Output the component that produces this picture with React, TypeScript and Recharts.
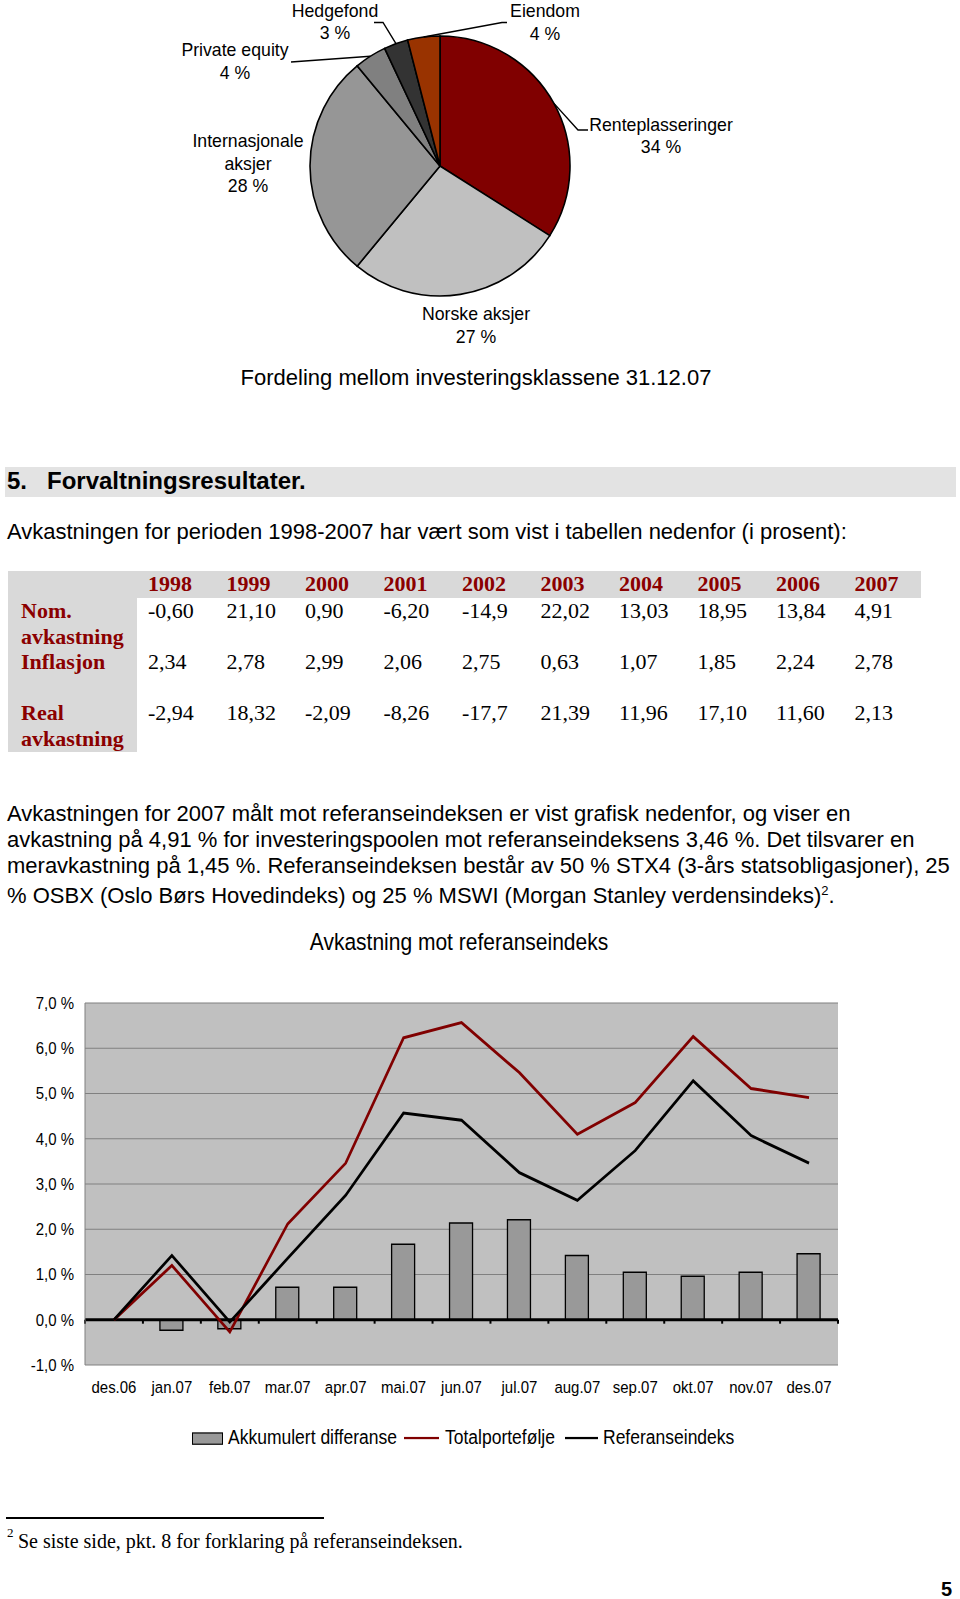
import React from "react"
import {
  PieChart,
  Pie,
  Cell,
  ComposedChart,
  Bar,
  Line,
  XAxis,
  YAxis,
  CartesianGrid,
  ReferenceLine
} from 'recharts'

// fordeling 31.12.07 (clockwise from 12 o'clock)
const pieNames = ['Renteplasseringer', 'Norske aksjer', 'Internasjonale aksjer', 'Private equity', 'Hedgefond', 'Eiendom']
const pieShares = [34, 27, 28, 4, 3, 4]
const pieColors = ['#800000', '#c0c0c0', '#969696', '#808080', '#333333', '#993300']

// avkastningstabell
const years = ['1998', '1999', '2000', '2001', '2002', '2003', '2004', '2005', '2006', '2007']
const nomReturn = ['-0,60', '21,10', '0,90', '-6,20', '-14,9', '22,02', '13,03', '18,95', '13,84', '4,91']
const inflation = ['2,34', '2,78', '2,99', '2,06', '2,75', '0,63', '1,07', '1,85', '2,24', '2,78']
const realReturn = ['-2,94', '18,32', '-2,09', '-8,26', '-17,7', '21,39', '11,96', '17,10', '11,60', '2,13']

// avkastning mot referanseindeks 2007
const months = ['des.06', 'jan.07', 'feb.07', 'mar.07', 'apr.07', 'mai.07', 'jun.07', 'jul.07', 'aug.07', 'sep.07', 'okt.07', 'nov.07', 'des.07']
const akkumulert = [0, -0.23, -0.2, 0.72, 0.72, 1.67, 2.14, 2.21, 1.42, 1.05, 0.96, 1.05, 1.46]
const totalportefolje = [0, 1.2, -0.27, 2.12, 3.46, 6.23, 6.57, 5.46, 4.1, 4.8, 6.26, 5.11, 4.91]
const referanseindeks = [0, 1.42, -0.05, 1.36, 2.75, 4.57, 4.41, 3.25, 2.64, 3.74, 5.28, 4.07, 3.46]
const yTicks = [-1, 0, 1, 2, 3, 4, 5, 6, 7]

const pieData = pieNames.map((name, i) => ({ name, value: pieShares[i] }))
// note: no "ref" key here, recharts spreads entries into props
const chartData = months.map((m, i) => ({
  month: m,
  diff: akkumulert[i],
  total: totalportefolje[i],
  bench: referanseindeks[i]
}))

const SANS = '"Liberation Sans", Arial, sans-serif'
const SERIF = '"Liberation Serif", "Times New Roman", serif'
const RED = '#8b0000'
const STRETCH = 1.12 // the embedded line chart is a bit taller than wide

// where each pie label sits
const pieLabelPos: any[] = [
  { x: 661, y: 124.5, path: [[578, 130], [588, 130]] },
  { x: 476, y: 314 },
  { x: 248, y: 141, wrap: true },
  { x: 235, y: 50, path: [[291, 62]] },
  { x: 335, y: 10.5, path: [[383, 22.5], [374, 22.5]] },
  { x: 545, y: 11, path: [[502, 22.5], [507, 22.5]] },
]

const RAD = Math.PI / 180

function pieLabel(props: any) {
  const { cx, cy, midAngle, outerRadius, index } = props
  const pos = pieLabelPos[index]
  const name = pieNames[index]
  const lines = pos.wrap ? name.split(' ') : [name]
  lines.push(`${pieShares[index]} %`)
  let leader = null
  if (pos.path) {
    const sx = cx + outerRadius * Math.cos(-midAngle * RAD)
    const sy = cy + outerRadius * Math.sin(-midAngle * RAD)
    const pts = [[sx, sy], ...pos.path].map((p: number[]) => p.join(',')).join(' ')
    leader = <polyline points={pts} fill="none" stroke="#000" strokeWidth={1.4} />
  }
  return (
    <g>
      {leader}
      {lines.map((t: string, i: number) => (
        <text key={i} x={pos.x} y={pos.y + i * 22.5} textAnchor="middle" dominantBaseline="central"
          fontSize={17.7} fontFamily={SANS} fill="#000">{t}</text>
      ))}
    </g>
  )
}

function zeroAxis(props: any) {
  const { x1, y1, x2 } = props
  const step = (x2 - x1) / months.length
  return (
    <g>
      <line x1={x1} y1={y1} x2={x2} y2={y1} stroke="#000" strokeWidth={2.5} />
      {months.concat(['']).map((_, i) => (
        <line key={i} x1={x1 + i * step} y1={y1} x2={x1 + i * step} y2={y1 + 3.5} stroke="#000" strokeWidth={2} />
      ))}
    </g>
  )
}

function Txt({ x, cy, size, family = SANS, bold = false, color = '#000', children }: any) {
  return (
    <div style={{
      position: 'absolute', left: x, top: cy - size * 0.62, fontSize: size, lineHeight: `${size * 1.2}px`,
      fontFamily: family, fontWeight: bold ? 'bold' : 'normal', color, whiteSpace: 'nowrap'
    }}>{children}</div>
  )
}

const para2 = [
  'Avkastningen for 2007 målt mot referanseindeksen er vist grafisk nedenfor, og viser en',
  'avkastning på 4,91 % for investeringspoolen mot referanseindeksens 3,46 %. Det tilsvarer en',
  'meravkastning på 1,45 %. Referanseindeksen består av 50 % STX4 (3-års statsobligasjoner), 25',
]

const colX = (i: number) => 148 + i * 78.5

function App() {
  return (
    <div style={{ position: 'absolute', left: 0, top: 0, width: 960, height: 1599, overflow: 'hidden', background: '#fff', fontFamily: SANS }}>
      {/* pie */}
      <div style={{ position: 'absolute', left: 0, top: 0 }}>
        <PieChart width={960} height={360} margin={{ top: 0, right: 0, bottom: 0, left: 0 }}>
          <Pie data={pieData} dataKey="value" nameKey="name" cx={440} cy={166} outerRadius={130}
            startAngle={90} endAngle={-270} stroke="#000" strokeWidth={1.6}
            label={pieLabel} labelLine={false} isAnimationActive={false}>
            {pieData.map((d, i) => <Cell key={d.name} fill={pieColors[i]} />)}
          </Pie>
        </PieChart>
      </div>
      <div style={{ position: 'absolute', left: 0, width: 952, top: 378.5 - 13.6, textAlign: 'center', fontSize: 22, lineHeight: '26px' }}>
        Fordeling mellom investeringsklassene 31.12.07
      </div>

      {/* section heading */}
      <div style={{ position: 'absolute', left: 5, top: 467, width: 951, height: 30, background: '#e3e3e3' }} />
      <Txt x={7} cy={482} size={24} bold>5.</Txt>
      <Txt x={47} cy={482} size={24} bold>Forvaltningsresultater.</Txt>

      <Txt x={7} cy={533} size={22}>Avkastningen for perioden 1998-2007 har vært som vist i tabellen nedenfor (i prosent):</Txt>

      {/* table */}
      <div style={{ position: 'absolute', left: 8, top: 571, width: 913, height: 27, background: '#d9d9d9' }} />
      <div style={{ position: 'absolute', left: 8, top: 571, width: 129, height: 181, background: '#d9d9d9' }} />
      {years.map((y, i) => <Txt key={y} x={colX(i)} cy={585} size={22} family={SERIF} bold color={RED}>{y}</Txt>)}
      <Txt x={21} cy={612} size={22} family={SERIF} bold color={RED}>Nom.</Txt>
      <Txt x={21} cy={638} size={22} family={SERIF} bold color={RED}>avkastning</Txt>
      <Txt x={21} cy={663} size={22} family={SERIF} bold color={RED}>Inflasjon</Txt>
      <Txt x={21} cy={714} size={22} family={SERIF} bold color={RED}>Real</Txt>
      <Txt x={21} cy={740} size={22} family={SERIF} bold color={RED}>avkastning</Txt>
      {nomReturn.map((v, i) => <Txt key={'n' + i} x={colX(i)} cy={612} size={22} family={SERIF}>{v}</Txt>)}
      {inflation.map((v, i) => <Txt key={'i' + i} x={colX(i)} cy={663} size={22} family={SERIF}>{v}</Txt>)}
      {realReturn.map((v, i) => <Txt key={'r' + i} x={colX(i)} cy={714} size={22} family={SERIF}>{v}</Txt>)}

      {para2.map((l, i) => <Txt key={l} x={7} cy={815 + i * 25.7} size={22}>{l}</Txt>)}
      <Txt x={7} cy={892} size={22}>% OSBX (Oslo Børs Hovedindeks) og 25 % MSWI (Morgan Stanley verdensindeks)<sup style={{ fontSize: 13 }}>2</sup>.</Txt>

      {/* line/bar chart */}
      <div style={{ position: 'absolute', left: 0, top: 915, width: 860, height: 500, transform: `scaleY(${STRETCH})`, transformOrigin: 'top left' }}>
        <div style={{ position: 'absolute', left: 0, width: 918, top: 24 - 12.9, textAlign: 'center', fontSize: 21, lineHeight: '25px' }}>
          Avkastning mot referanseindeks
        </div>
        <div style={{ position: 'absolute', left: 0, top: 0 }}>
          <ComposedChart width={850} height={500} data={chartData} margin={{ top: 78.6, right: 12, bottom: 0, left: 0 }}>
            <CartesianGrid vertical={false} stroke="#808080" fill="#c0c0c0" fillOpacity={1} />
            <XAxis dataKey="month" height={98.2} axisLine={false} tickLine={false} tickMargin={8} interval={0}
              tick={{ fontSize: 15, fill: '#000', fontFamily: SANS }} />
            <YAxis domain={[-1, 7]} ticks={yTicks} width={85} tickLine={false} tickMargin={5}
              axisLine={{ stroke: '#808080' }} allowDataOverflow
              tickFormatter={(v: number) => `${v.toFixed(1).replace('.', ',')} %`}
              tick={{ fontSize: 15, fill: '#000', fontFamily: SANS }} />
            <YAxis yAxisId="right" orientation="right" width={0} tick={false} tickLine={false} axisLine={{ stroke: '#808080' }} />
            <ReferenceLine y={0} shape={zeroAxis} />
            <Bar dataKey="diff" name="Akkumulert differanse" barSize={23} fill="#999999" stroke="#000" strokeWidth={1.3} isAnimationActive={false} />
            <Line dataKey="total" name="Totalportefølje" type="linear" stroke="#800000" strokeWidth={2.6} dot={false} isAnimationActive={false} />
            <Line dataKey="bench" name="Referanseindeks" type="linear" stroke="#000" strokeWidth={2.6} dot={false} isAnimationActive={false} />
          </ComposedChart>
        </div>
        {/* legend */}
        <div style={{ position: 'absolute', left: 192, top: 461.5, width: 29, height: 9.5, background: '#999999', border: '1px solid #000' }} />
        <div style={{ position: 'absolute', left: 228, top: 467 - 11, fontSize: 17.5, lineHeight: '21px', whiteSpace: 'nowrap' }}>Akkumulert differanse</div>
        <div style={{ position: 'absolute', left: 404, top: 465.6, width: 35, height: 2.7, background: '#800000' }} />
        <div style={{ position: 'absolute', left: 445, top: 467 - 11, fontSize: 17.5, lineHeight: '21px', whiteSpace: 'nowrap' }}>Totalportefølje</div>
        <div style={{ position: 'absolute', left: 565, top: 465.6, width: 33, height: 2.7, background: '#000' }} />
        <div style={{ position: 'absolute', left: 603, top: 467 - 11, fontSize: 17.5, lineHeight: '21px', whiteSpace: 'nowrap' }}>Referanseindeks</div>
      </div>

      {/* footnote */}
      <div style={{ position: 'absolute', left: 6, top: 1517, width: 318, height: 1.5, background: '#000' }} />
      <Txt x={7} cy={1533} size={13} family={SERIF}>2</Txt>
      <Txt x={18} cy={1541} size={20} family={SERIF}>Se siste side, pkt. 8 for forklaring på referanseindeksen.</Txt>
      <Txt x={941} cy={1589} size={20} bold>5</Txt>
    </div>
  )
}

export default App
